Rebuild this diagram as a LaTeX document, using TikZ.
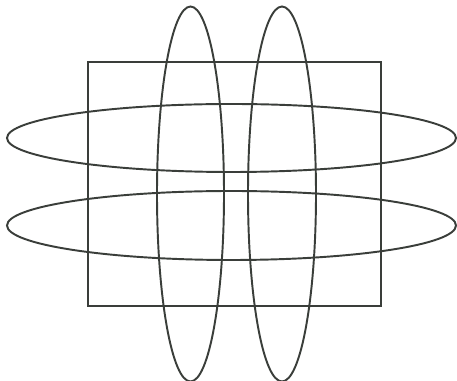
\documentclass[tikz,border=0pt]{standalone}
\usepackage{tikz}
\definecolor{inkgray}{RGB}{58,62,58}

\begin{document}
\begin{tikzpicture}[x=0.02cm, y=-0.02cm,
    ring/.style={draw=inkgray, line width=1.1pt}]
    \useasboundingbox (0,0) rectangle (457,381);
    % frame
    \draw[ring] (88,62) rectangle (381,306);
    % horizontal loops
    \draw[ring] (231.5,138) ellipse [x radius=224.5, y radius=34];
    \draw[ring] (231.5,225.5) ellipse [x radius=224.5, y radius=34.5];
    % vertical loops
    \draw[ring] (190.5,194) ellipse [x radius=33.5, y radius=187.5];
    \draw[ring] (282,194) ellipse [x radius=34, y radius=187.5];
\end{tikzpicture}
\end{document}
